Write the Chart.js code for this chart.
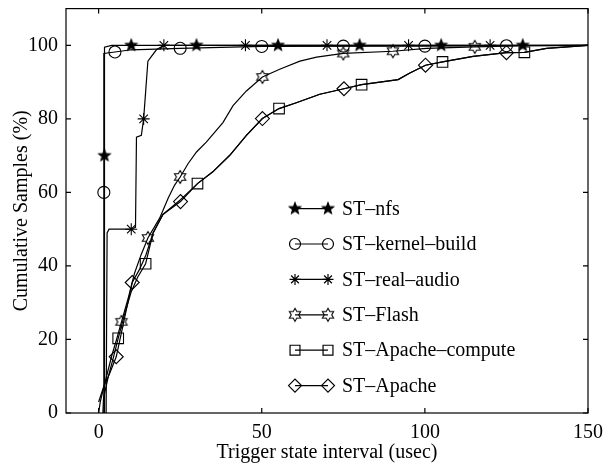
<!DOCTYPE html>
<html>
<head>
<meta charset="utf-8">
<script src="https://cdn.jsdelivr.net/npm/chart.js@4.4.1/dist/chart.umd.min.js"></script>
<style>
  html, body { margin: 0; padding: 0; background: #fff; }
</style>
</head>
<body>
<canvas id="chart" width="604" height="465"></canvas>
<script>
// ---- data ----
const seriesNames = ['ST\u2013nfs', 'ST\u2013kernel\u2013build', 'ST\u2013real\u2013audio', 'ST\u2013Flash', 'ST\u2013Apache\u2013compute', 'ST\u2013Apache'];
const xTicks = [0, 50, 100, 150];
const yTicks = [0, 20, 40, 60, 80, 100];

const nfsLine = [[1.8, 0], [1.8, 99.5], [4, 100], [150, 100]];
const nfsMarks = [[1.8, 70], [10, 100], [30, 100], [55, 100], [80, 100], [105, 100], [130, 100]];

const kernelLine = [[1.6, 0], [1.6, 97.8], [5, 98.2], [10, 98.8], [25, 99.2], [50, 99.7], [100, 99.8], [150, 100]];
const kernelMarks = [[1.6, 60], [5, 98.2], [25, 99.2], [50, 99.7], [75, 99.8], [100, 99.8], [125, 99.9]];

const audioLine = [[2.3, 0], [2.6, 49], [3.2, 50], [10, 50], [11.3, 50.5], [11.6, 75], [13.1, 75.5], [13.8, 80], [15.1, 95.7], [17.7, 98.8], [20, 100], [150, 100]];
const audioMarks = [[10, 50], [13.8, 80], [20, 100], [45, 100], [70, 100], [95, 100], [120, 100]];

const flashLine = [[0, 0], [0.5, 3], [2, 8.5], [4, 15.5], [5.5, 20], [7, 24.8], [9, 31], [11, 38], [13, 43], [15.1, 47.6],
  [18.7, 53], [21.3, 58.4], [23.3, 62], [25, 64.2], [27.4, 67.8], [30, 71], [33, 73.7], [38.1, 79], [41.2, 83.6],
  [45.3, 87.6], [50.2, 91.4], [55.5, 93.5], [61.7, 95.7], [66.8, 96.8], [75, 97.8], [90.2, 98.4], [100.5, 99.2],
  [115.3, 99.6], [130, 99.9], [150, 100]];
const flashMarks = [[7, 24.8], [15.1, 47.6], [25, 64.2], [50.2, 91.4], [75, 97.8], [90.2, 98.4], [115.3, 99.6]];

const computeLine = [[1.3, 0], [1.5, 4], [3, 10], [4.5, 15], [6, 20.3], [8, 27], [10, 33], [12, 37], [14.4, 40.6],
  [16.7, 49], [19.7, 54], [25.1, 58], [30.3, 62.4], [35, 65.6], [40.2, 70.1], [45.3, 75.5], [50.2, 80.1],
  [55.3, 82.8], [60.6, 84.4], [67.8, 86.7], [75.2, 88.2], [80.6, 89.3], [91.8, 90.7], [95.4, 92.5],
  [100.2, 94.6], [105.4, 95.5], [114.8, 97], [125, 98], [130.5, 98.1], [137.3, 99.2], [150, 100]];
const computeMarks = [[6, 20.3], [14.4, 40.6], [30.3, 62.4], [55.3, 82.8], [80.6, 89.3], [105.4, 95.5], [130.5, 98.1]];

const apacheLine = [[0, 3], [1.5, 7], [3.5, 11], [5.4, 15.3], [7.5, 24], [10.3, 35.5], [12.5, 39], [14.5, 43],
  [16.7, 49], [19.7, 54], [25.1, 57.5], [30.3, 62.4], [35, 65.6], [40.2, 70.1], [45.3, 75.5], [50.2, 80.1],
  [55.3, 82.8], [60.6, 84.4], [67.8, 86.7], [75.2, 88.2], [80.6, 89.3], [91.8, 90.7], [95.4, 92.5],
  [100.2, 94.6], [105.4, 95.5], [114.8, 97], [125, 98], [130.5, 98.1], [137.3, 99.2], [150, 100]];
const apacheMarks = [[5.4, 15.3], [10.3, 35.5], [25.1, 57.5], [50.2, 80.1], [75.2, 88.2], [100.2, 94.6], [125, 98]];

// ---- custom marker glyphs ----
function starGlyph(points, outer, inner, filled) {
    const c = document.createElement('canvas');
    c.width = c.height = 16;
    const g = c.getContext('2d');
    g.translate(8, 8);
    g.lineWidth = 1.1;
    g.strokeStyle = '#000';
    g.fillStyle = '#000';
    g.beginPath();
    for (let i = 0; i < points * 2; i++) {
        const r = i % 2 === 0 ? outer : inner;
        const a = -Math.PI / 2 + i * Math.PI / points;
        if (i === 0) g.moveTo(r * Math.cos(a), r * Math.sin(a));
        else g.lineTo(r * Math.cos(a), r * Math.sin(a));
    }
    g.closePath();
    if (filled) g.fill();
    g.stroke();
    return c;
}
const filledStar = starGlyph(5, 6, 2.6, true);
const hexagram = starGlyph(6, 6.5, 3.7, false);

const styles = [
    { pointStyle: filledStar, radius: 6 },
    { pointStyle: 'circle', radius: 6 },
    { pointStyle: 'star', radius: 6 },
    { pointStyle: hexagram, radius: 6.5 },
    { pointStyle: 'rect', radius: 7.5 },
    { pointStyle: 'rectRot', radius: 7 }
];

const lines = [nfsLine, kernelLine, audioLine, flashLine, computeLine, apacheLine];
const marks = [nfsMarks, kernelMarks, audioMarks, flashMarks, computeMarks, apacheMarks];
const toXY = arr => arr.map(p => ({ x: p[0], y: p[1] }));

const datasets = [];
lines.forEach((l, i) => {
    datasets.push({
        label: seriesNames[i],
        data: toXY(l),
        showLine: true,
        borderColor: '#000',
        borderWidth: 1.2,
        pointRadius: 0,
        fill: false
    });
});
marks.forEach((m, i) => {
    datasets.push({
        label: seriesNames[i] + ' marks',
        data: toXY(m),
        showLine: false,
        pointStyle: styles[i].pointStyle,
        pointRadius: styles[i].radius,
        pointBorderColor: '#000',
        pointBackgroundColor: 'rgba(255,255,255,0)',
        pointBorderWidth: 1.1
    });
});

const serif = 'Liberation Serif, Times New Roman, serif';

// frame with inward ticks on all four sides
const framePlugin = {
    id: 'frame',
    afterDatasetsDraw(chart) {
        const { ctx, chartArea: a, scales } = chart;
        ctx.save();
        ctx.strokeStyle = '#000';
        ctx.lineWidth = 1.2;
        ctx.strokeRect(a.left, a.top, a.right - a.left, a.bottom - a.top);
        ctx.beginPath();
        xTicks.forEach(v => {
            const px = scales.x.getPixelForValue(v);
            ctx.moveTo(px, a.bottom); ctx.lineTo(px, a.bottom - 5);
            ctx.moveTo(px, a.top); ctx.lineTo(px, a.top + 5);
        });
        yTicks.forEach(v => {
            const py = scales.y.getPixelForValue(v);
            ctx.moveTo(a.left, py); ctx.lineTo(a.left + 5, py);
            ctx.moveTo(a.right, py); ctx.lineTo(a.right - 5, py);
        });
        ctx.stroke();
        ctx.restore();
    }
};

// legend drawn matlab-style: marker -- line -- marker, then label
const legendPlugin = {
    id: 'mlegend',
    afterDraw(chart) {
        const { ctx, chartArea: a } = chart;
        const x1 = a.left + 229, x2 = a.left + 262, tx = a.left + 276;
        ctx.save();
        ctx.font = '20px ' + serif;
        ctx.textBaseline = 'middle';
        seriesNames.forEach((name, i) => {
            const y = a.top + 200 + i * 35.4;
            ctx.strokeStyle = '#000';
            ctx.lineWidth = 1.2;
            ctx.beginPath();
            ctx.moveTo(x1, y); ctx.lineTo(x2, y);
            ctx.stroke();
            const opts = { pointStyle: styles[i].pointStyle, radius: styles[i].radius - 0.5, borderWidth: 1.1 };
            ctx.fillStyle = 'rgba(255,255,255,0)';
            [x1, x2].forEach(px => Chart.helpers.drawPoint(ctx, opts, px, y));
            ctx.fillStyle = '#000';
            ctx.fillText(name, tx, y + 1);
        });
        ctx.restore();
    }
};

new Chart(document.getElementById('chart').getContext('2d'), {
    type: 'scatter',
    data: { datasets },
    options: {
        responsive: false,
        animation: false,
        layout: { padding: { top: 5, right: 16, left: 0, bottom: 0 } },
        plugins: { legend: { display: false }, tooltip: { enabled: false } },
        scales: {
            x: {
                type: 'linear',
                min: -10,
                max: 150,
                afterBuildTicks: s => { s.ticks = xTicks.map(v => ({ value: v })); },
                afterFit: s => { s.height = 52; s.paddingLeft = 0; s.paddingRight = 0; },
                grid: { display: false, drawTicks: false },
                border: { display: false },
                ticks: { color: '#000', font: { family: serif, size: 20 }, padding: 8, maxRotation: 0 },
                title: { display: true, text: 'Trigger state interval (usec)', color: '#000', font: { family: serif, size: 20 }, padding: { top: 0, bottom: 0 } }
            },
            y: {
                type: 'linear',
                min: 0,
                max: 110,
                afterBuildTicks: s => { s.ticks = yTicks.map(v => ({ value: v })); },
                afterFit: s => { s.width = 66; s.paddingTop = 0; s.paddingBottom = 0; },
                grid: { display: false, drawTicks: false },
                border: { display: false },
                ticks: { color: '#000', font: { family: serif, size: 20 }, padding: 8 },
                title: { display: true, text: 'Cumulative Samples (%)', color: '#000', font: { family: serif, size: 20 }, padding: { top: 10, bottom: 0 } }
            }
        }
    },
    plugins: [framePlugin, legendPlugin]
});
</script>
</body>
</html>
